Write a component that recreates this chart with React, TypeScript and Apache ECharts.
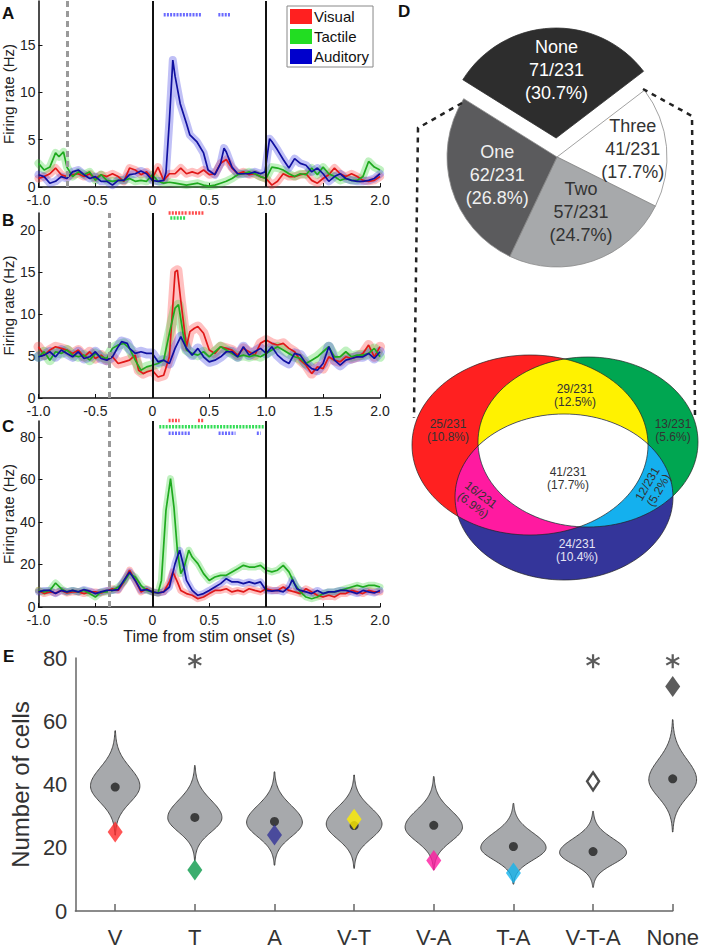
import React, { useEffect, useRef } from "react";
import * as echarts from "echarts";

const FONT = "'Liberation Sans', Arial, Helvetica, sans-serif";

// ---------------- Panel A (firing rate, Hz) ----------------
const A_visual: number[][] = [[-1,0.9],[-0.95,1.1],[-0.9,1.4],[-0.85,2.0],[-0.8,1.3],[-0.75,1.1],[-0.7,1.3],[-0.65,1.4],[-0.6,1.1],[-0.55,1.4],[-0.5,0.9],[-0.45,1.3],[-0.4,1.1],[-0.35,1.4],[-0.3,1.1],[-0.25,0.6],[-0.2,2.0],[-0.15,1.8],[-0.1,1.3],[-0.05,1.6],[0,0.9],[0.05,2.1],[0.1,0.7],[0.15,1.4],[0.2,1.4],[0.25,2.0],[0.3,1.4],[0.35,1.6],[0.4,1.4],[0.45,1.8],[0.5,1.3],[0.55,1.4],[0.6,2.5],[0.65,2.9],[0.7,2.0],[0.75,1.4],[0.8,1.6],[0.85,1.3],[0.9,1.4],[0.95,1.1],[1.0,0.9],[1.05,0.2],[1.1,0.6],[1.15,1.4],[1.2,1.1],[1.25,1.1],[1.3,1.3],[1.35,1.4],[1.4,0.7],[1.45,0.4],[1.5,0.9],[1.55,1.3],[1.6,2.0],[1.65,1.4],[1.7,1.1],[1.75,1.4],[1.8,1.1],[1.85,0.7],[1.9,0.6],[1.95,0.7],[2.0,1.1]];
const A_tactile: number[][] = [[-1,2.5],[-0.95,1.8],[-0.9,2.1],[-0.85,3.6],[-0.82,3.2],[-0.78,3.7],[-0.75,2.1],[-0.7,1.1],[-0.65,1.6],[-0.6,1.3],[-0.55,1.6],[-0.5,0.7],[-0.45,1.3],[-0.4,0.7],[-0.35,0.6],[-0.3,0.7],[-0.25,0.7],[-0.2,0.9],[-0.15,0.6],[-0.1,0.7],[-0.05,0.6],[0,1.3],[0.05,0.6],[0.1,0.4],[0.15,0.5],[0.2,0.4],[0.25,0.3],[0.3,0.2],[0.35,0.3],[0.4,0.4],[0.45,0.2],[0.5,0.1],[0.55,0.2],[0.6,0.4],[0.65,0.6],[0.7,0.9],[0.75,1.3],[0.8,1.4],[0.85,1.6],[0.9,1.4],[0.95,1.1],[1.0,0.9],[1.05,2.1],[1.1,2.0],[1.15,1.8],[1.2,1.4],[1.25,1.1],[1.3,1.4],[1.35,1.3],[1.4,2.0],[1.45,1.3],[1.5,2.1],[1.55,1.4],[1.6,1.1],[1.65,0.7],[1.7,0.9],[1.75,0.7],[1.8,0.7],[1.85,1.1],[1.9,2.7],[1.95,2.1],[2.0,1.8]];
const A_auditory: number[][] = [[-1,1.3],[-0.95,1.1],[-0.9,0.4],[-0.85,0.6],[-0.8,1.1],[-0.75,0.9],[-0.7,1.6],[-0.65,1.8],[-0.6,1.3],[-0.55,0.9],[-0.5,1.1],[-0.45,0.6],[-0.4,0.6],[-0.35,0.2],[-0.3,0.7],[-0.25,0.7],[-0.2,1.3],[-0.15,1.4],[-0.1,1.7],[-0.05,1.4],[0,0.7],[0.05,0.6],[0.1,0.7],[0.12,1.5],[0.15,7.0],[0.18,13.4],[0.2,11.7],[0.245,8.8],[0.3,6.7],[0.33,5.5],[0.39,4.8],[0.45,3.6],[0.49,1.8],[0.55,1.3],[0.6,2.5],[0.63,4.1],[0.65,3.7],[0.7,2.1],[0.75,1.4],[0.8,1.4],[0.85,1.4],[0.9,1.6],[0.95,1.4],[0.99,1.6],[1.03,5.1],[1.05,4.8],[1.1,3.9],[1.15,2.9],[1.2,2.0],[1.25,3.0],[1.3,2.5],[1.35,2.3],[1.4,1.6],[1.45,2.0],[1.5,1.4],[1.55,0.6],[1.6,1.1],[1.65,1.4],[1.7,0.9],[1.75,0.7],[1.8,0.6],[1.85,0.6],[1.9,0.7],[1.95,0.9],[2.0,1.4]];
const A_sigAuditory: number[][] = [[0.10, 0.42, 18.2], [0.58, 0.68, 18.2]];
const A_cue = -0.75;

// ---------------- Panel B ----------------
const B_visual: number[][] = [[-1,6.1],[-0.95,5.1],[-0.9,5.7],[-0.85,6.1],[-0.8,5.9],[-0.75,5.7],[-0.7,5.3],[-0.65,5.7],[-0.6,4.9],[-0.55,5.5],[-0.5,4.7],[-0.45,5.1],[-0.4,4.5],[-0.35,4.9],[-0.3,4.1],[-0.25,4.3],[-0.2,4.5],[-0.15,5.1],[-0.12,3.3],[-0.08,2.9],[-0.05,3.1],[0,3.3],[0.05,2.5],[0.1,2.7],[0.15,4.9],[0.2,15.0],[0.22,15.2],[0.25,11.6],[0.3,6.1],[0.33,7.9],[0.37,8.3],[0.4,8.5],[0.45,7.7],[0.5,5.7],[0.55,5.3],[0.6,6.1],[0.65,5.9],[0.7,5.7],[0.75,5.1],[0.8,5.9],[0.85,5.5],[0.9,5.1],[0.95,6.5],[1.0,6.9],[1.05,6.5],[1.1,6.3],[1.15,6.5],[1.2,5.9],[1.25,5.5],[1.3,4.5],[1.35,3.9],[1.4,2.9],[1.45,3.7],[1.5,3.5],[1.55,4.9],[1.6,4.5],[1.65,4.3],[1.7,4.9],[1.75,4.7],[1.8,4.9],[1.85,5.3],[1.9,6.3],[1.95,4.9],[2.0,6.1]];
const B_tactile: number[][] = [[-1,4.9],[-0.95,5.5],[-0.9,4.5],[-0.85,5.5],[-0.8,5.3],[-0.75,5.7],[-0.7,5.1],[-0.65,4.9],[-0.6,5.1],[-0.55,4.5],[-0.5,5.3],[-0.45,4.9],[-0.4,4.7],[-0.35,5.9],[-0.3,6.3],[-0.25,6.5],[-0.2,5.9],[-0.15,4.5],[-0.1,3.3],[-0.05,3.7],[0,3.9],[0.05,4.1],[0.1,4.5],[0.15,7.7],[0.2,10.7],[0.23,11.1],[0.27,7.7],[0.3,5.7],[0.35,5.3],[0.4,5.1],[0.45,5.5],[0.5,4.9],[0.55,5.5],[0.6,6.1],[0.65,5.7],[0.7,5.3],[0.75,4.9],[0.8,5.1],[0.85,4.9],[0.9,5.1],[0.95,4.9],[1.0,5.3],[1.05,5.7],[1.1,6.1],[1.15,5.7],[1.2,5.3],[1.25,4.9],[1.3,4.7],[1.35,4.1],[1.4,4.5],[1.45,4.9],[1.5,5.5],[1.55,6.1],[1.6,4.9],[1.65,4.9],[1.7,5.5],[1.75,4.9],[1.8,5.1],[1.85,5.1],[1.9,5.3],[1.95,5.9],[2.0,4.9]];
const B_auditory: number[][] = [[-1,4.9],[-0.95,5.1],[-0.9,5.5],[-0.85,4.9],[-0.8,5.7],[-0.75,5.3],[-0.7,4.9],[-0.65,5.5],[-0.6,4.7],[-0.55,4.9],[-0.5,5.5],[-0.45,4.7],[-0.4,4.5],[-0.35,4.9],[-0.3,6.1],[-0.27,6.7],[-0.22,6.5],[-0.2,5.9],[-0.15,5.3],[-0.1,5.5],[-0.05,5.3],[0,5.3],[0.05,4.3],[0.1,4.5],[0.15,4.1],[0.2,5.9],[0.25,7.3],[0.3,5.9],[0.35,5.1],[0.4,5.9],[0.45,4.9],[0.5,4.3],[0.55,4.5],[0.6,4.9],[0.65,5.5],[0.7,5.5],[0.75,4.9],[0.8,6.1],[0.85,5.1],[0.9,5.5],[0.95,5.9],[1.0,5.3],[1.05,6.1],[1.1,5.1],[1.15,4.5],[1.2,4.1],[1.25,5.3],[1.3,5.1],[1.35,4.1],[1.4,3.5],[1.45,3.3],[1.5,4.1],[1.55,6.1],[1.6,4.5],[1.65,3.9],[1.7,4.5],[1.75,4.7],[1.8,4.9],[1.85,4.9],[1.9,5.3],[1.95,4.7],[2.0,5.5]];
const B_sigVisual: number[][] = [[0.143, 0.269, 22.0], [0.284, 0.304, 22.0], [0.319, 0.444, 22.0]];
const B_sigTactile: number[][] = [[0.158, 0.284, 21.4]];
const B_cue = -0.38;

// ---------------- Panel C ----------------
const C_visual: number[][] = [[-1,7.8],[-0.95,6.3],[-0.9,7.1],[-0.85,6.6],[-0.8,7.8],[-0.75,6.6],[-0.7,7.1],[-0.65,7.1],[-0.6,6.3],[-0.55,7.1],[-0.5,7.1],[-0.45,6.6],[-0.4,7.5],[-0.35,8.6],[-0.3,7.8],[-0.25,11.8],[-0.2,17.3],[-0.15,12.5],[-0.1,7.1],[-0.05,8.6],[0,7.1],[0.05,6.6],[0.1,7.1],[0.15,11.8],[0.18,16.5],[0.22,11.8],[0.25,7.8],[0.3,6.3],[0.35,5.5],[0.4,3.9],[0.45,4.7],[0.5,6.3],[0.55,7.8],[0.6,7.8],[0.65,8.6],[0.7,7.1],[0.75,7.8],[0.8,7.1],[0.85,8.6],[0.9,7.8],[0.95,7.1],[1.0,8.6],[1.05,7.8],[1.1,7.8],[1.15,9.4],[1.2,7.8],[1.25,7.1],[1.3,6.3],[1.35,8.6],[1.4,7.1],[1.45,5.5],[1.5,4.7],[1.55,5.5],[1.6,4.7],[1.65,6.3],[1.7,6.3],[1.75,7.8],[1.8,7.1],[1.85,6.3],[1.9,7.8],[1.95,7.1],[2.0,7.1]];
const C_tactile: number[][] = [[-1,7.8],[-0.95,7.1],[-0.9,7.8],[-0.85,11.3],[-0.8,8.6],[-0.75,7.1],[-0.7,7.8],[-0.65,7.1],[-0.6,7.8],[-0.55,6.3],[-0.5,4.7],[-0.45,7.1],[-0.4,7.1],[-0.35,7.8],[-0.3,9.4],[-0.25,11.8],[-0.2,15.7],[-0.15,14.1],[-0.1,10.2],[-0.05,7.8],[0,7.1],[0.05,6.6],[0.08,12.5],[0.12,45.5],[0.16,60.4],[0.19,47.0],[0.22,26.7],[0.25,15.7],[0.28,18.8],[0.32,26.7],[0.35,23.5],[0.4,20.4],[0.45,15.7],[0.5,12.5],[0.55,14.1],[0.6,14.9],[0.65,14.9],[0.7,16.5],[0.75,18.0],[0.8,19.6],[0.85,18.8],[0.9,18.8],[0.95,19.6],[1.0,17.3],[1.05,16.5],[1.1,17.3],[1.15,19.6],[1.2,16.5],[1.25,11.0],[1.3,7.1],[1.35,4.7],[1.4,3.9],[1.45,4.7],[1.5,6.3],[1.55,7.1],[1.6,7.1],[1.65,7.8],[1.7,8.6],[1.75,9.4],[1.8,10.2],[1.85,9.4],[1.9,10.2],[1.95,10.2],[2.0,9.4]];
const C_auditory: number[][] = [[-1,7.1],[-0.95,7.8],[-0.9,7.8],[-0.85,6.3],[-0.8,7.8],[-0.75,7.1],[-0.7,7.8],[-0.65,7.1],[-0.6,8.2],[-0.55,7.5],[-0.5,6.3],[-0.45,7.1],[-0.4,7.8],[-0.35,7.8],[-0.3,8.2],[-0.25,12.5],[-0.2,16.5],[-0.15,12.5],[-0.1,7.8],[-0.05,8.2],[0,7.1],[0.05,6.6],[0.1,7.1],[0.15,9.4],[0.2,20.4],[0.24,26.7],[0.27,20.4],[0.3,12.5],[0.35,7.8],[0.4,5.5],[0.45,6.3],[0.5,7.8],[0.55,9.4],[0.6,11.0],[0.65,13.3],[0.7,11.8],[0.75,11.8],[0.8,11.0],[0.85,11.8],[0.9,11.0],[0.95,11.8],[1.0,7.8],[1.05,7.5],[1.1,7.8],[1.15,7.1],[1.2,9.4],[1.23,12.9],[1.27,8.6],[1.3,7.8],[1.35,7.1],[1.4,6.3],[1.45,7.8],[1.5,6.3],[1.55,7.1],[1.6,7.1],[1.65,7.8],[1.7,7.8],[1.75,7.1],[1.8,6.3],[1.85,7.8],[1.9,7.1],[1.95,6.6],[2.0,7.8]];
const C_sigVisual: number[][] = [[0.143, 0.231, 87.7], [0.401, 0.442, 87.7]];
const C_sigTactile: number[][] = [[0.061, 0.971, 84.8]];
const C_sigAuditory: number[][] = [[0.143, 0.327, 81.7], [0.582, 0.722, 81.7], [0.918, 0.942, 81.7]];
const C_cue = -0.38;

const stimLines = [0, 1];
const timeTicks = [-1, 2, 0.5];

// ---------------- Panel D ----------------
const pieNames = ["None", "Three", "Two", "One"];
const pieCounts = [71, 41, 57, 62];
const piePct = ["30.7", "17.7", "24.7", "26.8"];
const totalCells = 231;

const vennCounts = [25, 29, 13, 41, 16, 12, 24];
const vennPct = ["10.8", "12.5", "5.6", "17.7", "6.9", "5.2", "10.4"];

// ---------------- Panel E ----------------
const categoriesE = ["V", "T", "A", "V-T", "V-A", "T-A", "V-T-A", "None"];
const observedE = [25, 13, 24, 29, 16, 12, 41, 71];
const shuffleMeanE = [39.2, 29.6, 28.3, 27, 27.1, 20.4, 18.8, 41.8];
const violinTopE = [57, 46, 44, 43, 42.5, 34, 31.5, 60.5];
const violinPeakE = [39.5, 29.5, 28, 27.5, 26.5, 20, 18.5, 41.5];
const violinBottomE = [24, 16, 14.5, 13.5, 13, 8.5, 7.5, 25];
const violinHalfWidthE = [0.31, 0.34, 0.35, 0.35, 0.36, 0.41, 0.42, 0.30];
const significantE = [2, 7, 8];
const sigLevelE = 79;

// ---------------- styles ----------------
const LINE_COLORS = { visual: "#e01818", tactile: "#1faa1f", auditory: "#1010a0" };
const BAND_COLORS = { visual: "#ff3030", tactile: "#30d030", auditory: "#3030e0" };
const SIG_COLORS = { visual: "#ff4d4d", tactile: "#33dd55", auditory: "#6a6aff" };
const diamondColorsE = ["#ff2a2a", "#0a9a4a", "#333399", "#ffee00", "#ff1aa0", "#14b4ee", "#ffffff", "#333333"];

const PIE_CENTER = [557, 157];
const PIE_RADIUS = 110;
const PIE_START = 148;
const PIE_OFFSET = 19;

function timeAxis(g: number, withName: boolean) {
  return {
    type: "value",
    gridIndex: g,
    min: timeTicks[0],
    max: timeTicks[1],
    interval: timeTicks[2],
    axisLine: { show: true, onZero: false, lineStyle: { color: "#111", width: 1.5 } },
    axisTick: { show: true, inside: true, length: 4, lineStyle: { color: "#111", width: 1 } },
    axisLabel: {
      formatter: (v: number) => (v === 0 ? "0" : v.toFixed(1)),
      fontSize: 14, lineHeight: 12, color: "#222", fontFamily: FONT, margin: 7,
    },
    splitLine: { show: false },
    name: withName ? "Time from stim onset (s)" : "",
    nameLocation: "middle",
    nameGap: 21,
    nameTextStyle: { fontSize: 16, color: "#222", fontFamily: FONT },
  };
}

function rateAxis(g: number, max: number, interval: number) {
  return {
    type: "value",
    gridIndex: g,
    min: 0,
    max,
    interval,
    axisLine: { show: true, onZero: false, lineStyle: { color: "#111", width: 1.5 } },
    axisTick: { show: true, inside: true, length: 4, lineStyle: { color: "#111", width: 1 } },
    axisLabel: { fontSize: 14, lineHeight: 11, color: "#222", fontFamily: FONT, margin: 3, showMaxLabel: false },
    splitLine: { show: false },
    name: "Firing rate (Hz)",
    nameLocation: "middle",
    nameGap: 21,
    nameTextStyle: { fontSize: 15, color: "#222", fontFamily: FONT },
  };
}

type Mod = "visual" | "tactile" | "auditory";

function panelSeries(g: number, data: Record<Mod, number[][]>, bandPx: number, cue: number,
  sigs: { mod: Mod; rows: number[][] }[], names: Record<Mod, string>) {
  const mods: Mod[] = ["visual", "tactile", "auditory"];
  const out: any[] = [];
  mods.forEach((m, k) => {
    const s: any = {
      type: "line", name: names[m] + "-band", xAxisIndex: g, yAxisIndex: g,
      data: data[m], showSymbol: false, symbol: "none", silent: true, z: 1,
      lineStyle: { color: BAND_COLORS[m], width: bandPx, opacity: 0.3, cap: "round", join: "round" },
    };
    if (k === 0) {
      s.markLine = {
        silent: true, symbol: ["none", "none"], label: { show: false },
        data: [
          ...stimLines.map((x) => ({ xAxis: x, lineStyle: { color: "#111", width: 2, type: "solid" } })),
          { xAxis: cue, lineStyle: { color: "#9a9a9a", width: 3, type: [6, 4] } },
        ],
      };
    }
    out.push(s);
  });
  mods.forEach((m) => {
    out.push({
      type: "line", name: names[m], xAxisIndex: g, yAxisIndex: g,
      data: data[m], showSymbol: false, symbol: "none", z: 2,
      itemStyle: { color: LINE_COLORS[m] },
      lineStyle: { color: LINE_COLORS[m], width: 1.7 },
    });
  });
  sigs.forEach(({ mod, rows }) => {
    out.push({
      type: "custom", xAxisIndex: g, yAxisIndex: g, data: rows, silent: true, z: 3,
      encode: { x: [0, 1], y: 2 },
      renderItem: (_p: any, api: any) => {
        const p0 = api.coord([api.value(0), api.value(2)]);
        const p1 = api.coord([api.value(1), api.value(2)]);
        return {
          type: "line",
          shape: { x1: p0[0], y1: p0[1], x2: p1[0] + 1, y2: p1[1] },
          style: { stroke: SIG_COLORS[mod], lineWidth: 3.5, lineDash: [2, 1.2] },
        };
      },
    });
  });
  return out;
}

// ---------- Venn geometry helpers ----------
type Ell = { cx: number; cy: number; rx: number; ry: number };
const vennShapes: Ell[] = [
  { cx: 530, cy: 445, rx: 118, ry: 90 },
  { cx: 588, cy: 442, rx: 110, ry: 85 },
  { cx: 564, cy: 497, rx: 109, ry: 83 },
];
function boundary(e: Ell, n = 360) {
  const pts: number[][] = [];
  for (let i = 0; i < n; i++) {
    const a = (i / n) * Math.PI * 2;
    pts.push([e.cx + e.rx * Math.cos(a), e.cy + e.ry * Math.sin(a)]);
  }
  return pts;
}
function inside(e: Ell, p: number[]) {
  const dx = (p[0] - e.cx) / e.rx, dy = (p[1] - e.cy) / e.ry;
  return dx * dx + dy * dy <= 1.0000001;
}
function intersection(idx: number[]) {
  let pts: number[][] = [];
  idx.forEach((i) => {
    boundary(vennShapes[i]).forEach((p) => {
      if (idx.every((j) => j === i || inside(vennShapes[j], p))) pts.push(p);
    });
  });
  const cx = pts.reduce((s, p) => s + p[0], 0) / pts.length;
  const cy = pts.reduce((s, p) => s + p[1], 0) / pts.length;
  pts = pts.sort((a, b) => Math.atan2(a[1] - cy, a[0] - cx) - Math.atan2(b[1] - cy, b[0] - cx));
  return pts;
}

function buildOption(): any {
  const graphics: any[] = [];
  const vennFill = ["#ff2020", "#00a651", "#34359a"];
  vennShapes.forEach((e, i) => graphics.push({ type: "ellipse", shape: e, style: { fill: vennFill[i] }, z: 10 }));
  const inter: [number[], string][] = [
    [[0, 1], "#fff200"], [[0, 2], "#ff1aa0"], [[1, 2], "#14b0ee"], [[0, 1, 2], "#ffffff"],
  ];
  inter.forEach(([idx, col], k) => graphics.push({ type: "polygon", shape: { points: intersection(idx) }, style: { fill: col }, z: 11 + k }));
  vennShapes.forEach((e) => graphics.push({ type: "ellipse", shape: e, style: { fill: "none", stroke: "#222", lineWidth: 0.7 }, z: 20 }));
  const vennPos = [[448, 430], [575, 395], [673, 430], [568, 478], [477, 500], [653, 487], [577, 550]];
  const vennRot = [0, 0, 0, 0, -0.65, 1.05, 0];
  vennCounts.forEach((c, i) => graphics.push({
    type: "text", x: vennPos[i][0], y: vennPos[i][1], rotation: vennRot[i], z: 30,
    style: {
      text: `${c}/${totalCells}\n(${vennPct[i]}%)`, fill: i === 6 ? "#e4e4f4" : "#333",
      fontSize: 12, fontFamily: FONT, align: "center", verticalAlign: "middle", lineHeight: 13,
    },
  }));

  // pie labels, placed at each slice's mid angle (computed from the counts)
  const pieLabelColor = ["#ffffff", "#333333", "#333333", "#f0f0f0"];
  const pieLabelNudge = [[3, -13], [21, -3], [6, 3], [-7, 3]];
  const pieTotal = pieCounts.reduce((s, v) => s + v, 0);
  let acc = 0;
  pieCounts.forEach((c, i) => {
    const a0 = PIE_START - (acc / pieTotal) * 360;
    acc += c;
    const a1 = PIE_START - (acc / pieTotal) * 360;
    const mid = (((a0 + a1) / 2) * Math.PI) / 180;
    const r = PIE_RADIUS / 2 + (i === 0 ? PIE_OFFSET : 0);
    graphics.push({
      type: "text", z: 40,
      x: PIE_CENTER[0] + r * Math.cos(mid) + pieLabelNudge[i][0],
      y: PIE_CENTER[1] - r * Math.sin(mid) + pieLabelNudge[i][1],
      style: {
        text: `${pieNames[i]}\n${c}/${totalCells}\n(${piePct[i]}%)`,
        fill: pieLabelColor[i], fontSize: 18, lineHeight: 23, fontFamily: FONT,
        align: "center", verticalAlign: "middle",
      },
    });
  });

  // dashed connectors
  graphics.push({ type: "polyline", shape: { points: [[462, 103], [418, 128], [414, 418]] }, style: { stroke: "#222", lineWidth: 2.5, lineDash: [5, 5], fill: "none" }, z: 5 });
  graphics.push({ type: "polyline", shape: { points: [[643, 89], [692, 116], [695, 418]] }, style: { stroke: "#222", lineWidth: 2.5, lineDash: [5, 5], fill: "none" }, z: 5 });
  // panel letters
  const letters: [string, number, number][] = [["A", 2, 5], ["B", 2, 212], ["C", 2, 418], ["D", 398, 3], ["E", 3, 648]];
  letters.forEach(([t, x, y]) => graphics.push({
    type: "text", x, y, z: 40,
    style: { text: t, fontSize: 17, fontWeight: "bold", fontFamily: FONT, fill: "#111", align: "left", verticalAlign: "top" },
  }));

  const pieColors = ["#2d2d2d", "#ffffff", "#a7a9ab", "#5b5b5d"];

  const series: any[] = [
    ...panelSeries(0, { visual: A_visual, tactile: A_tactile, auditory: A_auditory }, 8, A_cue,
      [{ mod: "auditory", rows: A_sigAuditory }], { visual: "Visual", tactile: "Tactile", auditory: "Auditory" }),
    ...panelSeries(1, { visual: B_visual, tactile: B_tactile, auditory: B_auditory }, 10, B_cue,
      [{ mod: "visual", rows: B_sigVisual }, { mod: "tactile", rows: B_sigTactile }], { visual: "B-Visual", tactile: "B-Tactile", auditory: "B-Auditory" }),
    ...panelSeries(2, { visual: C_visual, tactile: C_tactile, auditory: C_auditory }, 7, C_cue,
      [{ mod: "visual", rows: C_sigVisual }, { mod: "tactile", rows: C_sigTactile }, { mod: "auditory", rows: C_sigAuditory }],
      { visual: "C-Visual", tactile: "C-Tactile", auditory: "C-Auditory" }),
    {
      type: "pie", center: PIE_CENTER, radius: PIE_RADIUS, startAngle: PIE_START, clockwise: true,
      selectedMode: "single", selectedOffset: PIE_OFFSET, silent: true,
      itemStyle: { borderColor: "#8a8a8a", borderWidth: 0.8 },
      label: { show: false },
      labelLine: { show: false },
      emphasis: { disabled: true },
      data: pieNames.map((n, i) => ({
        name: n, value: pieCounts[i], selected: i === 0,
        itemStyle: { color: pieColors[i], borderColor: i === 0 ? pieColors[i] : "#8a8a8a" },
      })),
    },
    {
      type: "custom", xAxisIndex: 3, yAxisIndex: 3, silent: true, z: 2,
      data: categoriesE.map((_, i) => [i + 1, violinTopE[i], violinPeakE[i], violinBottomE[i], violinHalfWidthE[i]]),
      encode: { x: 0, y: [1, 3] },
      renderItem: (_p: any, api: any) => {
        const x = api.value(0), top = api.value(1), peak = api.value(2), bot = api.value(3), hw = api.value(4);
        const hwPx = api.size([hw, 0])[0];
        const N = 80;
        const left: number[][] = [], right: number[][] = [];
        for (let k = 0; k <= N; k++) {
          const v = bot + ((top - bot) * k) / N;
          const s = v >= peak ? (top - peak) / 3 : (peak - bot) / 3;
          const w = hwPx * Math.exp(-0.5 * ((v - peak) / s) ** 2);
          const c = api.coord([x, v]);
          left.push([c[0] - w, c[1]]);
          right.push([c[0] + w, c[1]]);
        }
        return {
          type: "polygon",
          shape: { points: left.concat(right.reverse()) },
          style: { fill: "#a7a9ac", stroke: "#3a3a3a", lineWidth: 0.9 },
        };
      },
    },
    {
      type: "scatter", xAxisIndex: 3, yAxisIndex: 3, silent: true, z: 3,
      symbol: "circle", symbolSize: 9, itemStyle: { color: "#222" },
      data: shuffleMeanE.map((v, i) => [i + 1, v]),
    },
    {
      type: "scatter", xAxisIndex: 3, yAxisIndex: 3, silent: true, z: 4,
      symbol: "diamond", symbolSize: [15, 21],
      data: observedE.map((v, i) => ({
        value: [i + 1, v],
        symbolSize: i === 6 ? [12, 18] : [15, 21],
        itemStyle: i === 6
          ? { color: "#ffffff", borderColor: "#222", borderWidth: 2.5 }
          : { color: diamondColorsE[i], borderColor: diamondColorsE[i], borderWidth: 0 },
      })),
    },
    {
      type: "scatter", xAxisIndex: 3, yAxisIndex: 3, silent: true, z: 4,
      symbol: "path://M-1.5,-10L1.5,-10L1.5,10L-1.5,10Z M7.91,-6.3L9.41,-3.7L-7.91,6.3L-9.41,3.7Z M9.41,3.7L7.91,6.3L-9.41,-3.7L-7.91,-6.3Z",
      symbolSize: 14, itemStyle: { color: "#333" },
      data: significantE.map((i) => [i, sigLevelE]),
    },
  ];

  return {
    animation: false,
    backgroundColor: "#ffffff",
    textStyle: { fontFamily: FONT },
    grid: [
      { left: 38, top: 1, width: 342, height: 186 },
      { left: 38, top: 213, width: 342, height: 185 },
      { left: 38, top: 421, width: 342, height: 186 },
      { left: 71, top: 658, width: 605, height: 253 },
    ],
    xAxis: [
      timeAxis(0, false), timeAxis(1, false), timeAxis(2, true),
      {
        type: "value", gridIndex: 3, min: 0.5, max: 8,
        axisLine: { show: true, onZero: false, lineStyle: { color: "#666", width: 1.5 } },
        axisTick: { show: true, inside: true, length: 7, customValues: [1, 2, 3, 4, 5, 6, 7, 8], lineStyle: { color: "#666", width: 1.5 } },
        axisLabel: {
          customValues: [1, 2, 3, 4, 5, 6, 7, 8],
          formatter: (v: number) => categoriesE[Math.round(v) - 1] ?? "",
          fontSize: 22, color: "#333", fontFamily: FONT, margin: 15,
        },
        splitLine: { show: false },
      },
    ],
    yAxis: [
      rateAxis(0, 19.64, 5), rateAxis(1, 22.0, 5), rateAxis(2, 87.5, 20),
      {
        type: "value", gridIndex: 3, min: 0, max: 80, interval: 20,
        axisLine: { show: true, onZero: false, lineStyle: { color: "#666", width: 1.5 } },
        axisTick: { show: false },
        axisLabel: { fontSize: 22, color: "#333", fontFamily: FONT, margin: 8 },
        splitLine: { show: false },
        name: "Number of cells", nameLocation: "middle", nameGap: 40,
        nameTextStyle: { fontSize: 24, color: "#333", fontFamily: FONT },
      },
    ],
    legend: {
      data: [
        { name: "Visual", itemStyle: { color: "#ff2020" } },
        { name: "Tactile", itemStyle: { color: "#22dd22" } },
        { name: "Auditory", itemStyle: { color: "#0000cc" } },
      ],
      left: 287, top: 6, orient: "vertical", icon: "rect",
      itemWidth: 22, itemHeight: 15, itemGap: 5, padding: [3, 4, 3, 3],
      borderColor: "#888", borderWidth: 1, backgroundColor: "#ffffff",
      selectedMode: false,
      textStyle: { fontSize: 15, color: "#111", fontFamily: FONT, padding: [0, 0, 0, -3] },
    },
    graphic: graphics,
    series,
  };
}

export default function App() {
  const ref = useRef<HTMLDivElement>(null);
  useEffect(() => {
    if (!ref.current) return;
    const chart = echarts.init(ref.current, null, { renderer: "svg" });
    chart.setOption(buildOption());
    return () => chart.dispose();
  }, []);
  return (
    <div
      ref={ref}
      style={{ position: "absolute", left: 0, top: 0, width: 702, height: 948, background: "#fff" }}
    />
  );
}
